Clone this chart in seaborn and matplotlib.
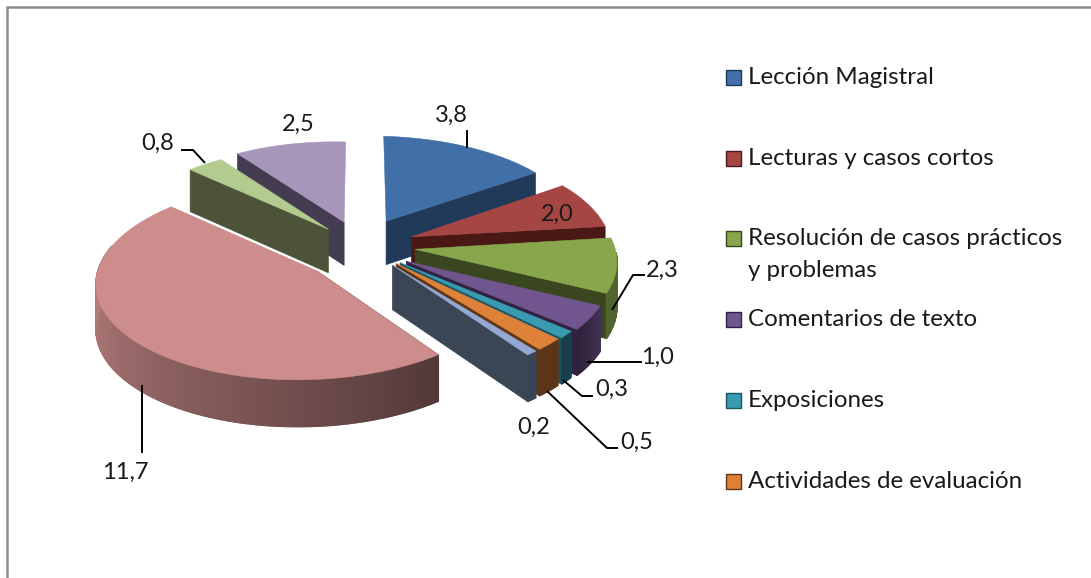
import numpy as np
import matplotlib
matplotlib.use("Agg")
import matplotlib.pyplot as plt
import matplotlib.colors as mc
from matplotlib.patches import Rectangle
import seaborn as sns

legend_labels = ["Lección Magistral", "Lecturas y casos cortos",
                 "Resolución de casos prácticos\ny problemas",
                 "Comentarios de texto", "Exposiciones", "Actividades de evaluación"]
values = [3.8, 2.0, 2.3, 1.0, 0.3, 0.5, 0.2, 11.7, 0.8, 2.5]
top_hex = ["#4170A8", "#A64644", "#88A64C", "#70558F", "#3A9AB2", "#DE8239",
           "#93A9D3", "#CD8D8C", "#B3CB8F", "#A795BA"]
wall_hex = ["#223A5A", "#4A1915", "#3A461F", "#2E2340", "#1E5563", "#5E3516",
            "#3B4655", "#523736", "#4C5338", "#443C50"]
explode = [0.287, 0.27, 0.27, 0.27, 0.27, 0.27, 0.27, 0.30, 0.25, 0.29]
radius = [1.03, 1.05, 1.05, 1.05, 1.05, 1.05, 1.05, 0.97, 0.96, 0.96]

sns.set_theme(style="white")
plt.rcParams["font.family"] = ["Lato", "DejaVu Sans"]
palette = sns.color_palette(top_hex)
walls = sns.color_palette(wall_hex)

W, H = 1091, 578
fig = plt.figure(figsize=(W / 100, H / 100), dpi=100, facecolor="white")
ax = fig.add_axes([0, 0, 1, 1])
ax.set_xlim(0, W)
ax.set_ylim(H, 0)
ax.axis("off")

cx, cy, a, b, k, kx = 358, 246, 205, 96, 0.10, 0.05
# small screen offsets of the slices, for the reference's camera
nudge = {0: (2, -1), 1: (3, 0), 2: (3, -1), 3: (2, 1), 4: (1, -1), 5: (1, -2), 6: (1, -2),
         7: (6, 5), 8: (4, 1), 9: (4, 2)}


def rim(theta, r=1.0, e=0.0, mid=0.0):
    t, m = np.radians(theta), np.radians(mid)
    X = r * np.sin(t) + e * np.sin(m)
    Y = r * np.cos(t) + e * np.cos(m)
    w = 1 + k * Y + kx * X
    return cx + a * X / w, cy - b * Y / w, Y


def depth(Y):
    return 44 - 2.5 * Y


def shade(theta):
    return np.interp(theta, [80, 116, 130, 145, 270, 360], [0.62, 0.60, 0.42, 0.40, 0.88, 0.88])


edges = np.concatenate([[0], np.cumsum(values)]) / sum(values) * 360
for i in [0, 1, 2, 3, 4, 5, 6, 9, 8, 7]:
    t0, t1 = edges[i], edges[i + 1]
    mid, e, r = (t0 + t1) / 2, explode[i], radius[i]
    dx, dy = nudge[i]
    ax_, ay_, aY = rim(mid, 0.0, e, mid)
    ax_, ay_ = ax_ + dx, ay_ + dy
    # the radial wall that faces the viewer
    t = t1 if mid < 180 else t0
    x, y, Y = rim(t, r, e, mid)
    x, y = x + dx, y + dy
    ax.fill([ax_, x, x, ax_], [ay_, y, y + depth(Y), ay_ + depth(aY)],
            color=walls[i], lw=0.5, zorder=2)
    # the outer wall, only where it faces the viewer
    th = np.linspace(t0, t1, max(int((t1 - t0) * 3), 4))
    xs, ys, Ys = rim(th, r, e, mid)
    xs, ys = xs + dx, ys + dy
    for j in range(len(th) - 1):
        tm = (th[j] + th[j + 1]) / 2
        if 92 < tm < 285:
            col = tuple(np.array(mc.to_rgb(palette[i])) * shade(tm))
            ax.fill([xs[j], xs[j + 1], xs[j + 1], xs[j]],
                    [ys[j], ys[j + 1], ys[j + 1] + depth(Ys[j + 1]), ys[j] + depth(Ys[j])],
                    color=col, lw=1.0, zorder=2)
    ax.fill(np.r_[ax_, xs], np.r_[ay_, ys], color=palette[i], lw=0.4, zorder=2)

# Value labels
label_xy = [(451, 115), (557, 214), (662, 270), (657, 357), (612, 389), (637, 442),
            (534, 427), (125, 472), (158, 143), (298, 124)]
for v, (x, y) in zip(values, label_xy):
    ax.text(x, y, f"{v:.1f}".replace(".", ","), fontsize=17, color="#1a1a1a",
            ha="center", va="center", zorder=5)

# Leader lines
leaders = [[(467, 130), (467, 148)],
           [(645, 275), (633, 275), (612, 310)],
           [(642, 362), (587, 362)],
           [(593, 396), (582, 396), (563, 380)],
           [(618, 448), (607, 448), (547, 391)],
           [(142, 385), (142, 453)],
           [(181, 150), (193, 150), (205, 163)]]
for pts in leaders:
    px, py = zip(*pts)
    ax.plot(px, py, color="black", lw=1.4, zorder=4, solid_capstyle="butt")

# Legend
rows = [77, 158, 238, 319, 400, 481]
for y, lab, c, wc in zip(rows, legend_labels, palette, walls):
    ax.add_patch(Rectangle((726, y - 7), 15, 15, facecolor=c, edgecolor=wc, lw=1, zorder=4))
    ax.text(748, y - 10, lab, fontsize=17.4, color="#1a1a1a", ha="left", va="top",
            linespacing=1.65, zorder=5)

# Outer frame, cut by the crop at right and bottom
ax.plot([7, 7, W], [H, 7, 7], color="#8C8C8C", lw=1.8, zorder=6, solid_joinstyle="miter")

fig.savefig("out.png", dpi=100, facecolor="white")
